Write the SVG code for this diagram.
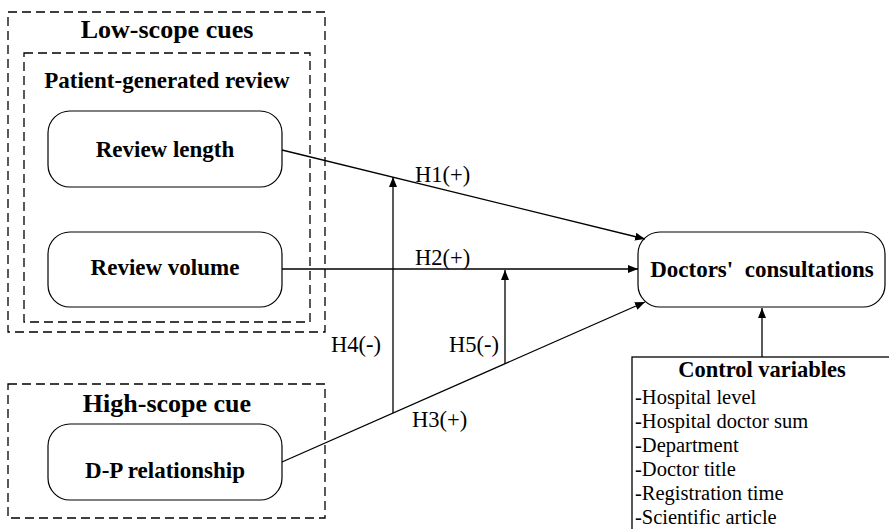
<svg xmlns="http://www.w3.org/2000/svg" width="889" height="529" viewBox="0 0 889 529">
<defs>
<style>
.dash{fill:none;stroke:#000;stroke-width:1.3;stroke-dasharray:9 5}
.node{fill:#fff;stroke:#000;stroke-width:1.2}
.bt{font-family:"Liberation Serif","Times New Roman",serif;font-weight:bold;fill:#000}
.rt{font-family:"Liberation Serif","Times New Roman",serif;fill:#000}
.edge{fill:none;stroke:#000;stroke-width:1.3}
</style>
<marker id="ah" viewBox="0 0 10 8" refX="10" refY="4" markerWidth="10" markerHeight="8" markerUnits="userSpaceOnUse" orient="auto">
<path d="M0,0 L10,4 L0,8 z" fill="#000"/>
</marker>
</defs>
<rect width="889" height="529" fill="#fff"/>

<g id="low-scope">
<rect class="dash" x="8" y="12" width="317" height="320"/>
<text class="bt" x="167" y="38" font-size="26" text-anchor="middle">Low-scope cues</text>
</g>
<g id="patient-review">
<rect class="dash" x="24" y="53" width="286" height="269"/>
<text class="bt" x="167" y="88" font-size="23" text-anchor="middle">Patient-generated review</text>
</g>
<g id="review-length">
<rect class="node" x="48" y="111" width="234" height="76" rx="22"/>
<text class="bt" x="165" y="157" font-size="23" text-anchor="middle">Review length</text>
</g>
<g id="review-volume">
<rect class="node" x="48" y="232" width="234" height="75" rx="22"/>
<text class="bt" x="165" y="275" font-size="23" text-anchor="middle">Review volume</text>
</g>
<g id="high-scope">
<rect class="dash" x="8" y="384" width="317" height="134"/>
<text class="bt" x="167" y="412" font-size="26" text-anchor="middle">High-scope cue</text>
</g>
<g id="dp-relationship">
<rect class="node" x="48" y="424" width="234" height="76" rx="22"/>
<text class="bt" x="165" y="478" font-size="23" text-anchor="middle">D-P relationship</text>
</g>
<g id="doctors-consultations">
<rect class="node" x="638" y="232" width="247" height="75" rx="22"/>
<text class="bt" x="762" y="277" font-size="23" text-anchor="middle" xml:space="preserve">Doctors'  consultations</text>
</g>
<g id="control-variables">
<rect x="632" y="357" width="270" height="190" fill="#fff" stroke="#000" stroke-width="1.3"/>
<text class="bt" x="762" y="377" font-size="22.5" text-anchor="middle">Control variables</text>
<text class="rt" x="635" y="404" font-size="20.5">-Hospital level</text>
<text class="rt" x="635" y="428" font-size="20.5">-Hospital doctor sum</text>
<text class="rt" x="635" y="452" font-size="20.5">-Department</text>
<text class="rt" x="635" y="476" font-size="20.5">-Doctor title</text>
<text class="rt" x="635" y="500" font-size="20.5">-Registration time</text>
<text class="rt" x="635" y="524" font-size="20.5">-Scientific article</text>
</g>

<g id="connectors">
<line class="edge" x1="282" y1="150" x2="645" y2="239" marker-end="url(#ah)"/>
<line class="edge" x1="282" y1="269" x2="638" y2="269" marker-end="url(#ah)"/>
<line class="edge" x1="282" y1="462" x2="645" y2="302" marker-end="url(#ah)"/>
<line class="edge" x1="393" y1="413" x2="393" y2="177" marker-end="url(#ah)"/>
<line class="edge" x1="505" y1="364" x2="505" y2="270" marker-end="url(#ah)"/>
<line class="edge" x1="762" y1="357" x2="762" y2="308" marker-end="url(#ah)"/>
<text class="rt" x="415" y="182" font-size="22.5">H1(+)</text>
<text class="rt" x="415" y="265" font-size="22.5">H2(+)</text>
<text class="rt" x="412" y="427" font-size="22.5">H3(+)</text>
<text class="rt" x="331" y="352" font-size="22.5">H4(-)</text>
<text class="rt" x="449" y="352" font-size="22.5">H5(-)</text>
</g>
</svg>
